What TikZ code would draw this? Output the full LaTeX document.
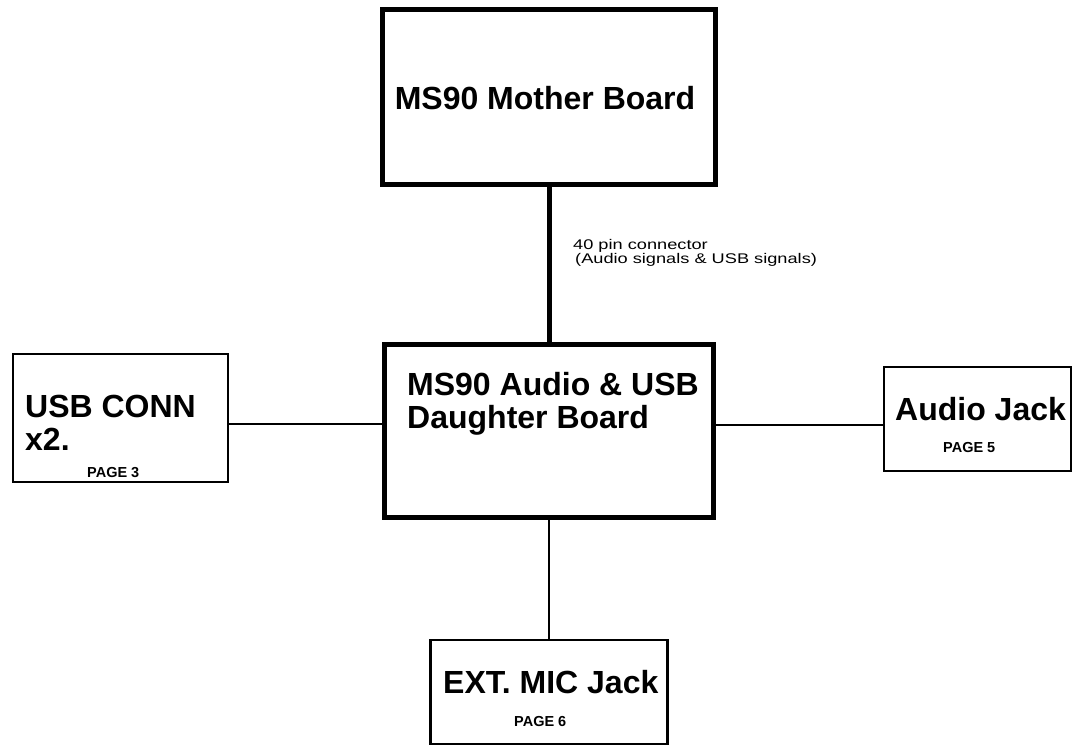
\documentclass[tikz,border=0pt]{standalone}
\usepackage{fontspec}
\setmainfont{Liberation Sans}
\newfontfamily\widesans[FakeStretch=1.3]{Liberation Sans}
\usepackage{tikz}
\usetikzlibrary{
  positioning,
  calc,
}
\definecolor{ink}{HTML}{000000}
\tikzset{
  boardbox/.style={
    rectangle, draw=ink, line width=5pt, fill=white, inner sep=0pt,
  },
  partbox/.style={
    rectangle, draw=ink, line width=2.4pt, fill=white, inner sep=0pt,
  },
  busline/.style={
    draw=ink, line width=5pt,
  },
  wire/.style={
    draw=ink, line width=2.2pt,
  },
  bigtag/.style={
    inner sep=0pt, align=left, text=ink,
    font=\fontsize{32}{32.5}\selectfont\bfseries,
  },
  pagetag/.style={
    inner sep=0pt, anchor=base west, text=ink,
    font=\fontsize{14.5}{16}\selectfont\bfseries,
  },
  pinnote/.style={
    inner sep=0pt, align=left, anchor=base west, text=ink,
    font=\widesans\fontsize{14}{14}\selectfont,
  },
}
\begin{document}
\begin{tikzpicture}[x=1pt, y=-1pt]
\useasboundingbox (0,0) rectangle (1074,746);

% boards
\node[boardbox, minimum width=333pt, minimum height=175pt] (mobo) at (549,97) {};
\node[boardbox, minimum width=329pt, minimum height=173pt] (dtr) at (549,431) {};

% parts
\node[partbox, minimum width=215pt, minimum height=128pt] (usb) at (120.5,418) {};
\node[partbox, minimum width=187pt, minimum height=104pt] (ajack) at (977.5,419) {};
\node[partbox, minimum width=237pt, minimum height=104pt] (mic) at (549,692) {};

\coordinate (usbrow) at (0,424);
\coordinate (audrow) at (0,425);

\draw[busline] (mobo.south) -- (dtr.north);
\draw[wire] (usb.east |- usbrow) -- (dtr.west |- usbrow);
\draw[wire] (dtr.east |- audrow) -- (ajack.west |- audrow);
\draw[wire] (dtr.south) -- (mic.north);

% labels (base = last line)
\node[bigtag, anchor=base] (moboTxt) at (545,110) {MS90 Mother Board};
\node[bigtag, anchor=base west] (dtrTxt) at (407,428) {MS90 Audio \& USB\\Daughter Board};
\node[bigtag, anchor=base west] (usbTxt) at (25,450) {USB CONN\\x2.};
\node[bigtag, anchor=base west] (ajackTxt) at (895,420) {Audio Jack};
\node[bigtag, anchor=base west] (micTxt) at (443,693) {EXT. MIC Jack};

\node[pagetag] (usbPg) at (87,477) {PAGE 3};
\node[pagetag] (ajackPg) at (943,452) {PAGE 5};
\node[pagetag] (micPg) at (514,726) {PAGE 6};

\node[pinnote] (busTxt) at (573,264) {40 pin connector\\\hspace*{2pt}(Audio signals \& USB signals)};

\end{tikzpicture}
\end{document}
